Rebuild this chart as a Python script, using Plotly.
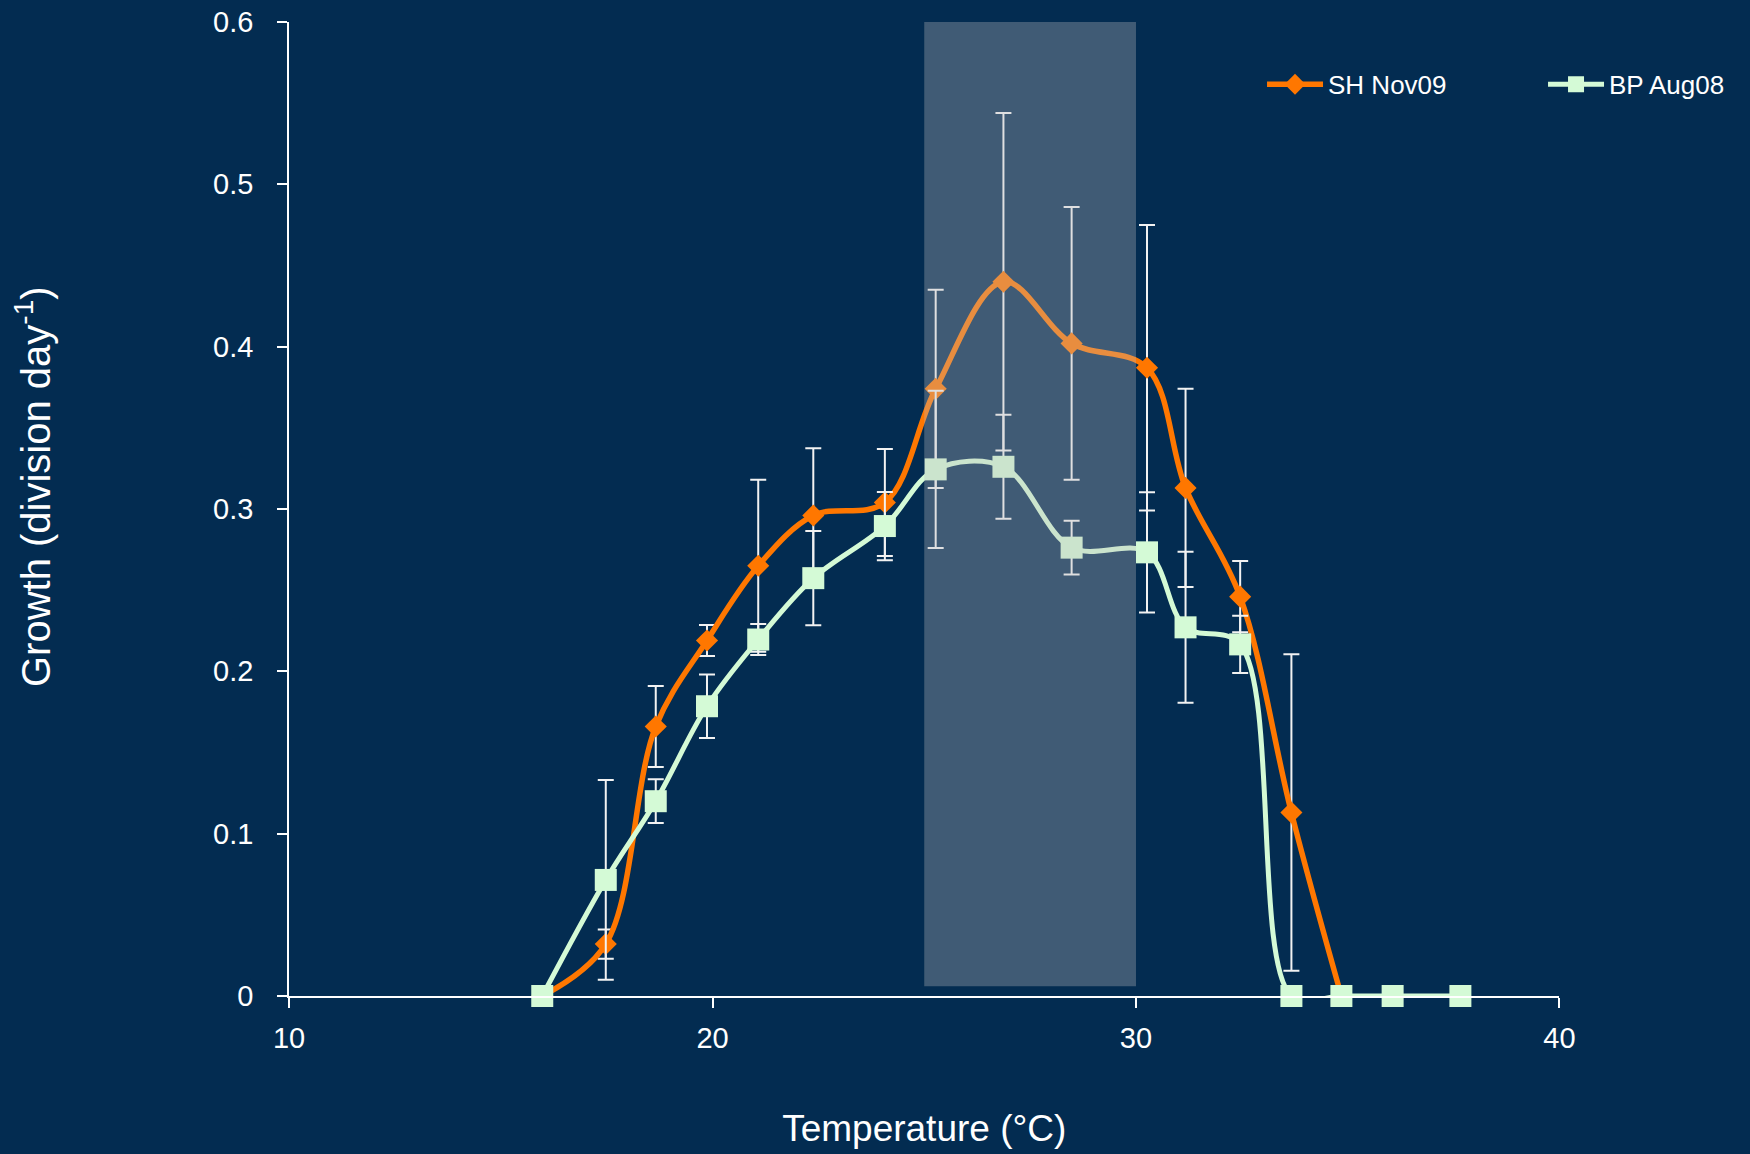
import plotly.graph_objects as go

# Temperature (°C) of each growth trial
temp_sh = [15.98, 17.48, 18.66, 19.87, 21.08, 22.38, 24.07, 25.27, 26.87,
           28.48, 30.26, 31.17, 32.46, 33.67, 34.85]
temp_bp = [15.98, 17.48, 18.66, 19.87, 21.08, 22.38, 24.07, 25.27, 26.87,
           28.48, 30.26, 31.17, 32.46, 33.67, 34.85, 36.06, 37.66]

# Growth rates (division day^-1) and standard deviations
growth_sh = [0, 0.032, 0.166, 0.219, 0.265, 0.296, 0.304, 0.374, 0.440,
             0.402, 0.387, 0.313, 0.246, 0.113, 0]
sd_sh = [0, 0.009, 0.025, 0.0095, 0.053, 0.0415, 0.033, 0.061, 0.104,
         0.084, 0.088, 0.061, 0.022, 0.0975, 0]

growth_bp = [0, 0.0715, 0.120, 0.1785, 0.2196, 0.2574, 0.2895, 0.3244, 0.326,
             0.2762, 0.2733, 0.2271, 0.2166, 0, 0, 0, 0]
sd_bp = [0, 0.0615, 0.0135, 0.0195, 0.0095, 0.029, 0.021, 0.0485, 0.032,
         0.0166, 0.037, 0.0465, 0.0177, 0, 0, 0, 0]

series_names = ["SH Nov09", "BP Aug08"]
x_ticks = [10, 20, 30, 40]
y_ticks = [0, 0.1, 0.2, 0.3, 0.4, 0.5, 0.6]
optimum_band = [25, 30]

BG = "#032C51"
ORANGE = "#FF7700"
MINT = "#D4FAD6"
FONT = "Liberation Sans, Arial, sans-serif"

fig = go.Figure()

fig.add_trace(go.Scatter(
    x=temp_sh, y=growth_sh, name=series_names[0],
    mode="lines+markers", cliponaxis=False,
    line=dict(color=ORANGE, width=5.5, shape="spline", smoothing=1),
    marker=dict(symbol="diamond", size=17, color=ORANGE),
    error_y=dict(type="data", array=sd_sh, visible=True,
                 color="#F2F2F2", thickness=2, width=8),
))

fig.add_trace(go.Scatter(
    x=temp_bp, y=growth_bp, name=series_names[1],
    mode="lines+markers", cliponaxis=False,
    line=dict(color=MINT, width=5, shape="spline", smoothing=1),
    marker=dict(symbol="square", size=22, color=MINT),
    error_y=dict(type="data", array=sd_bp, visible=True,
                 color="#F2F2F2", thickness=2, width=8),
))

# Translucent band over the optimal temperature range
fig.add_shape(
    type="rect", xref="x", yref="y",
    x0=optimum_band[0], x1=optimum_band[1], y0=0.006, y1=0.6,
    fillcolor="rgba(186,186,190,0.335)", line=dict(width=0),
    layer="above",
)

# Vertical axis title
fig.add_annotation(
    text="Growth (division day<sup>-1</sup>)",
    xref="paper", yref="paper", x=-0.1752, y=0.5226,
    xanchor="center", yanchor="middle", textangle=-90, showarrow=False,
    font=dict(size=40, color="white", family=FONT),
)

fig.update_layout(
    width=1750, height=1154,
    paper_bgcolor=BG, plot_bgcolor=BG,
    margin=dict(l=289, r=0, t=22, b=158, autoexpand=False),
    font=dict(family=FONT, color="white"),
    showlegend=True,
    legend=dict(
        orientation="h", x=0.666, y=0.936, xanchor="left", yanchor="middle",
        font=dict(size=26, color="white", family=FONT),
        bgcolor="rgba(0,0,0,0)", itemwidth=56, entrywidth=210,
        entrywidthmode="pixels",
    ),
    xaxis=dict(
        domain=[0, 0.8696],
        range=[10, 40], tickvals=x_ticks, ticktext=[str(v) for v in x_ticks],
        showgrid=False, zeroline=False, showline=True,
        linecolor="white", linewidth=2,
        ticks="outside", ticklen=10, tickcolor="white", tickwidth=1.5,
        tickfont=dict(size=29, color="white", family=FONT),
        ticklabelstandoff=5,
        title=dict(text="Temperature (°C)", standoff=62,
                   font=dict(size=37, color="white", family=FONT)),
    ),
    yaxis=dict(
        range=[0, 0.6], tickvals=y_ticks,
        ticktext=["0", "0.1", "0.2", "0.3", "0.4", "0.5", "0.6"],
        showgrid=False, zeroline=False, showline=True,
        linecolor="white", linewidth=1.5,
        ticks="outside", ticklen=10, tickcolor="white", tickwidth=1.5,
        tickfont=dict(size=29, color="white", family=FONT),
        ticklabelstandoff=18,
    ),
)

fig.write_html("out.html")
